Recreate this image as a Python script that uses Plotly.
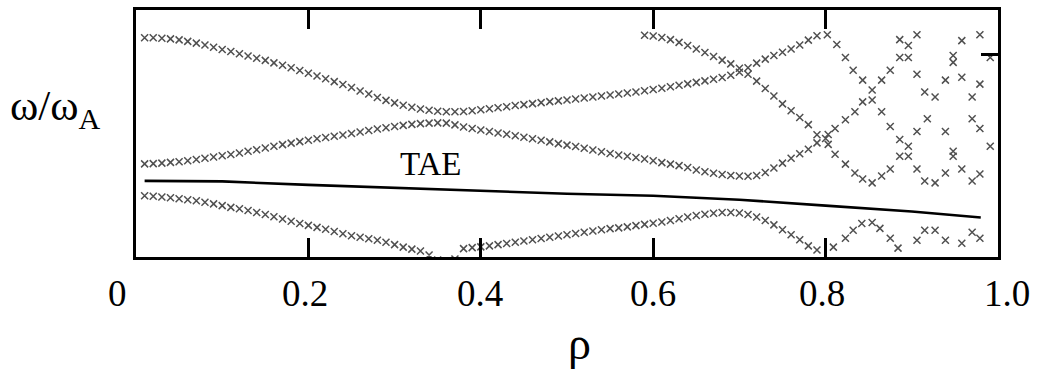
import plotly.graph_objects as go

# ---------------- data ----------------
rho_grid = [0.01, 0.02, 0.03, 0.04, 0.05, 0.06, 0.07, 0.08, 0.09, 0.10,
            0.11, 0.12, 0.13, 0.14, 0.15, 0.16, 0.17, 0.18, 0.19, 0.20,
            0.21, 0.22, 0.23, 0.24, 0.25, 0.26, 0.27, 0.28, 0.29, 0.30,
            0.31, 0.32, 0.33, 0.34, 0.35, 0.36, 0.37, 0.38, 0.39, 0.40,
            0.41, 0.42, 0.43, 0.44, 0.45, 0.46, 0.47, 0.48, 0.49, 0.50,
            0.51, 0.52, 0.53, 0.54, 0.55, 0.56, 0.57, 0.58, 0.59, 0.60,
            0.61, 0.62, 0.63, 0.64, 0.65, 0.66, 0.67, 0.68, 0.69, 0.70,
            0.71, 0.72, 0.73, 0.74, 0.75, 0.76, 0.77, 0.78, 0.79, 0.80]

# upper continuum branch (rho 0.01 .. 0.79)
omega_upper = [.888, .888, .886, .883, .879, .873, .866, .858, .849, .840,
               .832, .823, .814, .805, .796, .786, .776, .766, .755, .744,
               .733, .722, .710, .698, .686, .672, .660, .646, .634, .624,
               .614, .606, .599, .594, .590, .588, .588, .589, .592, .596,
               .600, .604, .608, .613, .617, .621, .625, .629, .632, .636,
               .640, .644, .648, .652, .656, .660, .664, .668, .673, .678,
               .683, .689, .695, .701, .707, .713, .720, .727, .736, .748,
               .766, .785, .801, .816, .829, .842, .858, .878, .896]

# middle continuum branch (rho 0.01 .. 0.80)
omega_middle = [.377, .378, .380, .383, .386, .390, .395, .400, .405, .410,
                .415, .421, .428, .434, .441, .448, .455, .461, .467, .473,
                .479, .484, .489, .494, .500, .506, .512, .518, .523, .528,
                .533, .537, .540, .542, .543, .542, .535, .526, .520, .514,
                .508, .502, .497, .491, .485, .479, .473, .466, .459, .453,
                .447, .440, .433, .426, .419, .413, .408, .403, .397, .390,
                .382, .376, .370, .362, .352, .345, .339, .334, .330, .328,
                .327, .330, .342, .360, .380, .400, .418, .436, .462, .480]

# lower continuum branch (rho 0.01 .. 0.79)
omega_lower = [.248, .246, .243, .240, .236, .232, .228, .222, .215, .208,
               .201, .195, .188, .180, .172, .163, .154, .145, .136, .128,
               .120, .112, .103, .094, .086, .080, .074, .068, .060, .050,
               .040, .032, .024, .008, -.012, -.020, -.008, .034, .038, .041,
               .045, .050, .055, .060, .065, .070, .075, .080, .085, .090,
               .095, .100, .105, .110, .115, .118, .122, .127, .132, .137,
               .142, .148, .155, .162, .168, .173, .177, .180, .180, .178,
               .172, .162, .148, .130, .110, .090, .070, .045, .028]

# top-right descending branch (rho 0.59 .. 0.79)
omega_top = [.898, .895, .889, .880, .869, .856, .842, .828, .812, .797,
             .782, .764, .740, .712, .682, .652, .620, .592, .565, .536, .495]

# scattered continuum points near the edge (rho > 0.8)
rho_edge = [.802, .813, .823, .832, .843, .854, .854, .865, .875, .886,
            .896, .886, .896, .906, .915, .927, .939, .811, .823, .834,
            .843, .865, .875, .886, .896, .886, .896, .906, .811, .823,
            .834, .843, .854, .865, .875, .906, .915, .927, .918, .906,
            .939, .939, .948, .948, .958, .958, .948, .948, .958, .970,
            .979, .970, .979, .970, .979, .991, .979, .991, .803, .803,
            .809, .823, .832, .842, .854, .863, .875, .884, .906, .915,
            .927, .939, .958, .970, .979]
omega_edge = [.900, .860, .808, .756, .716, .676, .636, .588, .528, .476,
              .448, .408, .408, .356, .308, .300, .340, .520, .556, .588,
              .628, .716, .756, .808, .808, .880, .856, .900, .416, .376,
              .340, .316, .300, .328, .356, .740, .668, .648, .560, .508,
              .508, .716, .816, .788, .876, .728, .428, .408, .356, .308,
              .336, .648, .700, .560, .520, .448, .900, .808, .456, .496,
              .040, .076, .108, .136, .140, .116, .076, .036, .068, .108,
              .108, .068, .056, .100, .076]

# TAE eigenfrequency line
rho_tae = [0.01, 0.10, 0.20, 0.30, 0.40, 0.50, 0.60, 0.70, 0.80, 0.90, 0.98]
omega_tae = [.308, .306, .292, .280, .268, .256, .248, .232, .208, .184, .160]

tick_vals = [0, 0.2, 0.4, 0.6, 0.8, 1.0]
tick_text = ["0", "0.2", "0.4", "0.6", "0.8", "1.0"]
tick_shift = [-19, -3, -1, 0, -4, 9]

SERIF = "Liberation Serif, Times New Roman, serif"

# ---------------- figure ----------------
fig = go.Figure()
mk = dict(symbol="x-thin", size=7, color="#505050",
          line=dict(width=1.5, color="#505050"))

branches = [
    (rho_grid[:79], omega_upper),
    (rho_grid[:80], omega_middle),
    (rho_grid[:79], omega_lower),
    (rho_grid[58:79], omega_top),
    (rho_edge, omega_edge),
]
for xs, ys in branches:
    fig.add_trace(go.Scatter(x=xs, y=ys, mode="markers", marker=mk,
                             showlegend=False, hoverinfo="skip"))

fig.add_trace(go.Scatter(x=rho_tae, y=omega_tae, mode="lines",
                         line=dict(color="black", width=2.6),
                         showlegend=False, hoverinfo="skip", yaxis="y2"))

annotations = []
for v, t, s in zip(tick_vals, tick_text, tick_shift):
    annotations.append(dict(x=v, y=0, xref="x", yref="paper", text=t,
                            showarrow=False, xanchor="center", yanchor="middle",
                            xshift=s, yshift=-36,
                            font=dict(family=SERIF, size=37, color="black")))
annotations.append(dict(x=0.515, y=0, xref="paper", yref="paper", text="ρ",
                        showarrow=False, xanchor="center", yanchor="middle",
                        yshift=-86, font=dict(family=SERIF, size=46, color="black")))
annotations.append(dict(x=-0.1485, y=0.6, xref="paper", yref="paper",
                        text="ω/ω<sub>A</sub>", showarrow=False,
                        xanchor="left", yanchor="middle",
                        font=dict(family=SERIF, size=43, color="black")))
annotations.append(dict(x=0.342, y=0.376, xref="x", yref="y", text="TAE",
                        showarrow=False, xanchor="center", yanchor="middle",
                        font=dict(family=SERIF, size=33, color="black")))

fig.update_layout(
    width=1037, height=372,
    margin=dict(l=136, r=39, t=7, b=115),
    paper_bgcolor="white", plot_bgcolor="white",
    xaxis=dict(range=[0, 1], showline=True, linewidth=3, linecolor="black",
               mirror="ticks", ticks="inside", ticklen=19, tickwidth=2.5,
               tickcolor="black", tickvals=[0.2, 0.4, 0.6, 0.8, 1.0],
               showticklabels=False, showgrid=False, zeroline=False),
    yaxis=dict(range=[0, 1], showline=True, linewidth=3, linecolor="black",
               mirror=True, ticks="", showticklabels=False,
               showgrid=False, zeroline=False),
    yaxis2=dict(range=[0, 1], overlaying="y", side="right", showline=False,
                ticks="inside", ticklen=17, tickwidth=2.5, tickcolor="black",
                tickvals=[0.82], showticklabels=False, showgrid=False,
                zeroline=False),
    annotations=annotations,
)

fig.write_html("out.html")
